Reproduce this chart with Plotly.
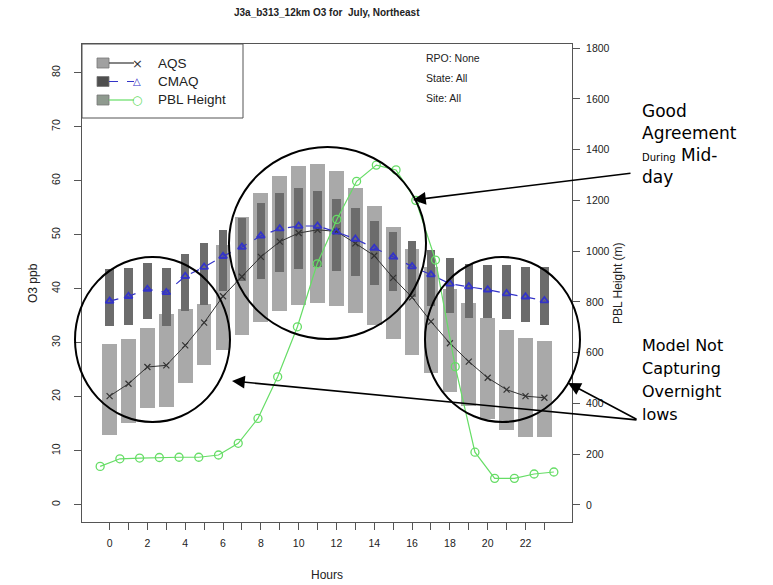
"""
Hourly O3 box chart (AQS vs CMAQ) with PBL height on the right axis.
"""

# %% ---- Requirements and constants ------------------------
import plotly.graph_objects as go

hours = list(range(24))
x_labels = [str(h) if h % 2 == 0 else '' for h in hours]

# AQS interquartile boxes (ppb)
aqs_q25 = [13.0, 15.2, 17.9, 18.1, 22.5, 25.8, 28.6, 31.5, 33.9, 35.8, 37.0, 37.4,
           36.7, 35.5, 33.3, 30.7, 27.8, 24.4, 20.8, 18.2, 15.9, 13.9, 12.6, 12.5]
aqs_q75 = [29.8, 30.7, 32.7, 35.3, 36.3, 37.2, 48.0, 53.3, 57.8, 60.9, 62.7, 63.1,
           61.7, 58.6, 55.3, 51.4, 47.3, 44.0, 40.0, 37.3, 34.6, 32.4, 30.9, 30.4]
aqs_median = [20.1, 22.4, 25.5, 25.8, 29.5, 33.7, 38.6, 42.2, 45.9, 48.7, 50.3, 50.9,
              50.6, 48.4, 46.1, 42.0, 38.4, 33.9, 29.9, 26.5, 23.5, 21.3, 20.1, 19.8]

# CMAQ interquartile boxes (ppb)
cmaq_q25 = [33.0, 33.3, 34.3, 33.0, 35.8, 37.0, 39.5, 41.5, 41.8, 43.1, 43.7, 44.0,
            43.3, 42.3, 40.7, 39.5, 38.5, 36.7, 35.5, 34.6, 34.6, 34.3, 33.8, 33.3]
cmaq_q75 = [43.7, 43.8, 44.8, 43.8, 46.5, 48.5, 50.8, 53.0, 55.8, 57.8, 58.6, 58.1,
            56.6, 54.9, 52.6, 50.5, 48.8, 47.2, 45.7, 44.6, 44.3, 44.3, 44.0, 44.0]
cmaq_median = [37.7, 38.6, 39.9, 39.3, 42.3, 44.0, 46.0, 47.7, 49.8, 51.1, 51.6, 51.6,
               50.5, 49.2, 47.5, 45.9, 44.1, 42.6, 40.9, 40.4, 39.8, 39.1, 38.5, 37.8]

# PBL height (m)
pbl_height = [152, 182, 185, 187, 188, 188, 197, 243, 341, 505, 702, 950,
              1125, 1275, 1339, 1320, 1200, 965, 545, 208, 105, 105, 122, 130]

LIGHT = '#a9a9a9'
DARK = '#6c6c6c'
BLUE = '#3434c8'
GREEN = '#66dd66'
AXIS = '#555555'
TXT = '#222222'
FONT = 'Liberation Sans, Arial, sans-serif'

# plot area in page pixels (page body has an 8px margin)
PAD = 8
L, R, T, B = 82, 572, 44, 522
W, H = 773 - PAD, 585 - PAD


def px(x):
    return (x - L) / (R - L)


def py(y):
    return (B - y) / (B - T)


def note(text, x, y, font, xanchor='center', angle=0):
    return dict(text=text, x=px(x), y=py(y), xref='paper', yref='paper',
                xanchor=xanchor, yanchor='middle', showarrow=False,
                textangle=angle, font=font)


# %% ---- Traces ------------------------
fig = go.Figure()

fig.add_trace(go.Bar(
    x=hours, y=[a - b for a, b in zip(aqs_q75, aqs_q25)], base=aqs_q25,
    width=0.78, marker=dict(color=LIGHT, line=dict(width=0)),
    showlegend=False, hoverinfo='skip'))
fig.add_trace(go.Bar(
    x=hours, y=[a - b for a, b in zip(cmaq_q75, cmaq_q25)], base=cmaq_q25,
    width=0.45, marker=dict(color=DARK, line=dict(width=0)),
    showlegend=False, hoverinfo='skip'))

fig.add_trace(go.Scatter(
    x=hours, y=aqs_median, mode='lines+markers',
    line=dict(color='#333333', width=1),
    marker=dict(symbol='x-thin', size=6, line=dict(color='#333333', width=1.2)),
    showlegend=False))
fig.add_trace(go.Scatter(
    x=hours, y=cmaq_median, mode='lines+markers',
    line=dict(color=BLUE, width=1.2, dash='dash'),
    marker=dict(symbol='triangle-up-open', size=7, color=BLUE, line=dict(width=1.8)),
    showlegend=False))

fig.add_trace(go.Scatter(
    x=hours, y=pbl_height, mode='lines+markers', xaxis='x2', yaxis='y2',
    line=dict(color=GREEN, width=1.2),
    marker=dict(symbol='circle-open', size=8, color=GREEN, line=dict(width=1.3)),
    showlegend=False))

# %% ---- Layout ------------------------
tickfont = dict(family=FONT, size=10.5, color=TXT)

fig.update_layout(
    width=W, height=H,
    margin=dict(l=L - PAD, r=W - (R - PAD), t=T - PAD, b=H - (B - PAD)),
    paper_bgcolor='white', plot_bgcolor='white',
    barmode='overlay', bargap=0,
    showlegend=False,
    xaxis=dict(range=[-1.46, 24.46], tickvals=hours, ticktext=x_labels,
               ticks='outside', ticklen=7, tickcolor=AXIS,
               showline=True, linecolor=AXIS, mirror=True, showgrid=False,
               zeroline=False, tickfont=tickfont, ticklabelstandoff=4),
    yaxis=dict(range=[-3.2, 85.3], tickvals=list(range(0, 90, 10)),
               ticks='outside', ticklen=7, tickcolor=AXIS, tickangle=-90,
               showline=True, linecolor=AXIS, mirror=True, showgrid=False,
               zeroline=False, tickfont=tickfont, ticklabelstandoff=10),
    xaxis2=dict(range=[-0.92, 23.92], overlaying='x', anchor='y2', visible=False),
    yaxis2=dict(range=[-67, 1816], overlaying='y', side='right', anchor='x2',
                tickvals=list(range(0, 2000, 200)),
                ticks='outside', ticklen=7, tickcolor=AXIS,
                showline=True, linecolor=AXIS, showgrid=False, zeroline=False,
                tickfont=tickfont, ticklabelstandoff=4),
)

shapes = []
annotations = []

# title and axis titles
annotations.append(note('<b>J3a_b313_12km O3 for  July, Northeast</b>', 327, 12,
                        dict(family=FONT, size=10, color=TXT)))
annotations.append(note('Hours', 327, 575, dict(family=FONT, size=12, color=TXT)))
annotations.append(note('O3 ppb', 33, 283, dict(family=FONT, size=12, color=TXT), angle=-90))
annotations.append(note('PBL Height (m)', 618, 283, dict(family=FONT, size=12, color=TXT), angle=-90))

# RPO / State / Site info
for txt, yy in [('RPO: None', 58), ('State: All', 78), ('Site: All', 98)]:
    annotations.append(note(txt, 424, yy, dict(family=FONT, size=10.5, color=TXT), 'left'))

# hand made legend (R style)
shapes.append(dict(type='rect', xref='paper', yref='paper', x0=0, x1=px(243),
                   y0=py(118), y1=1, line=dict(color=AXIS, width=1)))
legend_rows = [
    ('AQS', 63, '#a0a0a0', '#333333', 'solid', '×', 13),
    ('CMAQ', 81.5, '#4f4f4f', BLUE, 'dash', '△', 10),
    ('PBL Height', 100, '#8f9a8f', GREEN, 'solid', '○', 12),
]
for name, yy, sq, col, dash, sym, ssz in legend_rows:
    shapes.append(dict(type='rect', xref='paper', yref='paper',
                       x0=px(97), x1=px(109), y0=py(yy + 5), y1=py(yy - 5),
                       fillcolor=sq, line=dict(color='#777777', width=0.8)))
    shapes.append(dict(type='line', xref='paper', yref='paper',
                       x0=px(109), x1=px(134), y0=py(yy), y1=py(yy),
                       line=dict(color=col, width=1.2, dash=dash)))
    annotations.append(note(sym, 137, yy, dict(family='DejaVu Sans', size=ssz, color=col)))
    annotations.append(note(name, 156, yy, dict(family=FONT, size=13.5, color=TXT), 'left'))

# circles highlighting regions
for x0, x1, y0, y1 in [(75, 230, 257, 422), (229, 426, 147, 339), (425, 580, 257, 422)]:
    shapes.append(dict(type='circle', xref='paper', yref='paper',
                       x0=px(x0), x1=px(x1), y0=py(y1), y1=py(y0),
                       line=dict(color='black', width=2)))

# arrows (tip, tail)
for tip, tail in [((413, 200), (632, 173)), ((232, 381), (638, 420)), ((568, 383), (638, 420))]:
    annotations.append(dict(text='', x=px(tip[0]), y=py(tip[1]), xref='paper', yref='paper',
                            ax=tail[0] - tip[0], ay=tail[1] - tip[1], showarrow=True,
                            arrowhead=2, arrowsize=1.6, arrowwidth=1.6,
                            arrowcolor='black', standoff=0))

# notes on the right
good_font = dict(family='DejaVu Sans, Verdana, sans-serif', size=17, color='black')
good_lines = ['Good', 'Agreement', "<span style='font-size:10px'>During</span> Mid-", 'day']
for txt, yy in zip(good_lines, [111, 133, 155, 177]):
    annotations.append(note(txt, 640, yy, good_font, 'left'))
model_font = dict(family='DejaVu Sans, Verdana, sans-serif', size=16, color='black')
model_lines = ['Model Not', 'Capturing', 'Overnight', 'lows']
for txt, yy in zip(model_lines, [345, 368, 391, 414]):
    annotations.append(note(txt, 640, yy, model_font, 'left'))

fig.update_layout(shapes=shapes, annotations=annotations)

fig.write_html('out.html')
